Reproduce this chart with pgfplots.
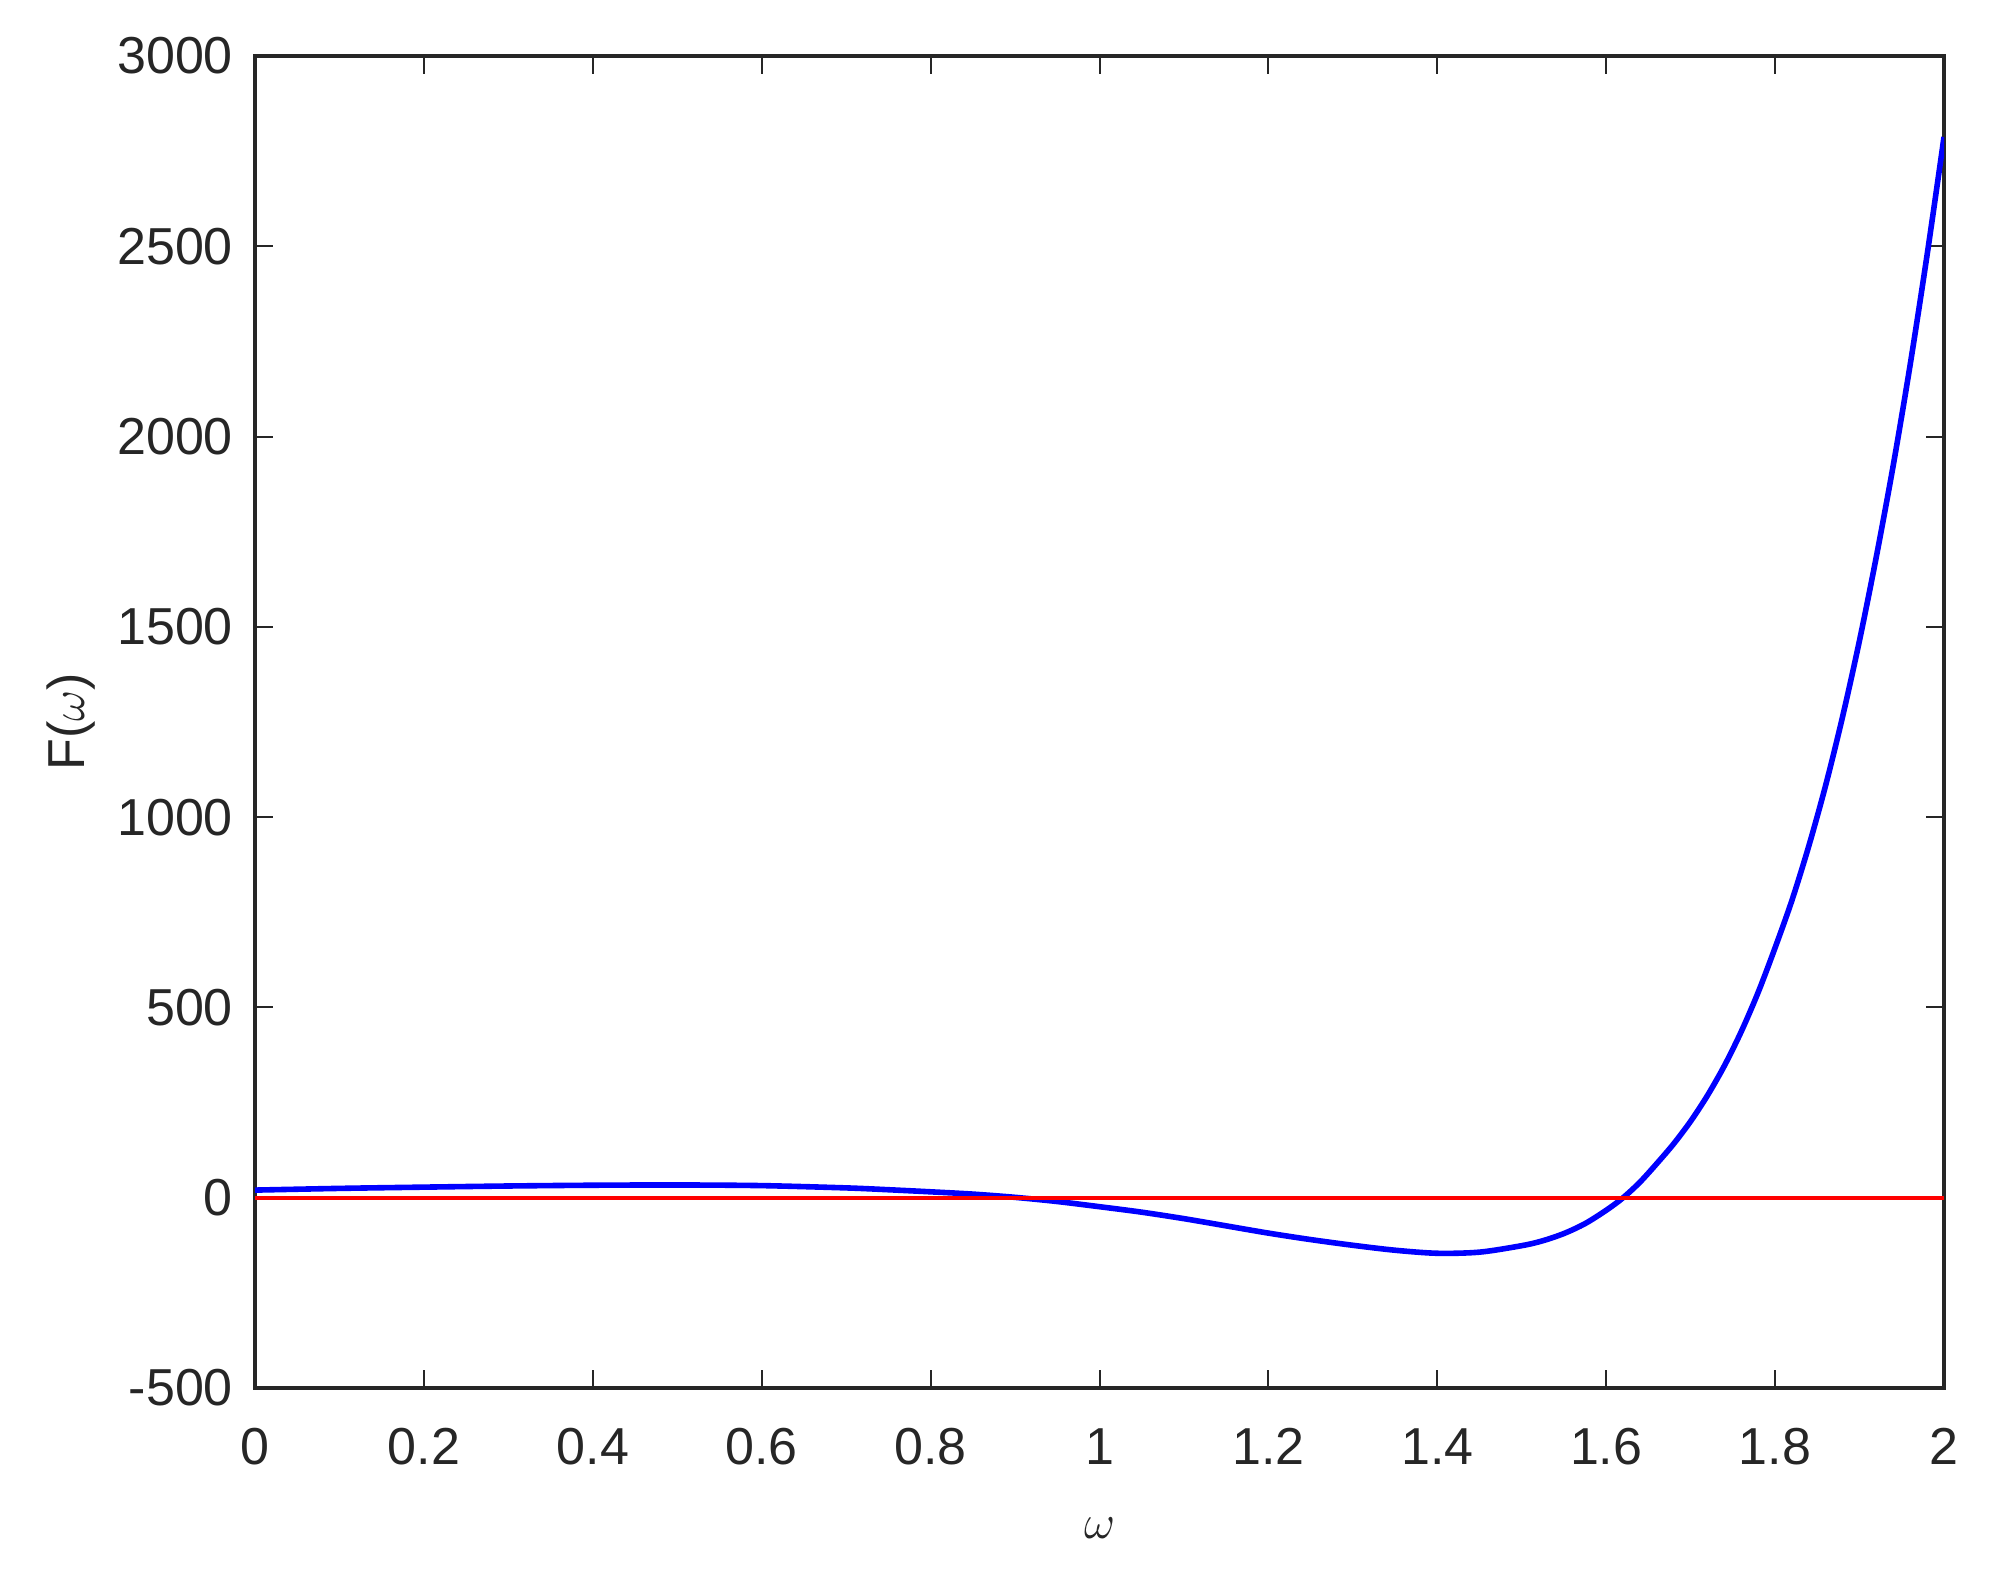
\documentclass[border=0pt]{standalone}
\usepackage{pgfplots}
\pgfplotsset{compat=1.18}
\usepackage{fontspec}
\setmainfont{Liberation Sans}
\definecolor{axgray}{HTML}{262626}
\begin{document}
\begin{tikzpicture}
\begin{axis}[
  name=ax,
  scale only axis,
  width=422.25pt, height=333pt,
  xmin=0, xmax=2, ymin=-500, ymax=3000,
  xtick={0,0.2,0.4,0.6,0.8,1,1.2,1.4,1.6,1.8,2},
  xticklabels={0,0.2,0.4,0.6,0.8,1,1.2,1.4,1.6,1.8,2},
  ytick={-500,0,500,1000,1500,2000,2500,3000},
  yticklabels={-500,0,500,1000,1500,2000,2500,3000},
  tick align=inside,
  major tick length=4.4pt,
  axis line style={axgray, line width=0.8pt},
  every tick/.style={axgray, line width=0.5pt},
  tick label style={font=\fontsize{13}{15}\selectfont, text=axgray},
  xticklabel style={yshift=-6.6pt},
  yticklabel style={xshift=-2pt},
  xlabel={$\omega$},
  ylabel={F($\omega$)},
  label style={font=\fontsize{13}{15}\selectfont, text=axgray},
  xlabel style={at={(axis description cs:0.5,-0.105)}, anchor=center},
  ylabel style={at={(axis description cs:-0.109,0.5)}, anchor=center, rotate=0},
  clip=true,
]
\addplot[blue, line width=1.4pt, smooth, tension=0.5] coordinates {
(0,20) (0.1,24.5) (0.2,27.8) (0.3,30.8) (0.4,32.8) (0.5,33.5) (0.6,31.8)
(0.7,25.8) (0.75,21) (0.8,15.5) (0.85,9.5) (0.9,1) (0.95,-10) (1.0,-23.6)
(1.05,-38) (1.1,-55) (1.15,-74) (1.2,-93) (1.25,-110) (1.3,-125) (1.35,-138)
(1.4,-146) (1.45,-143) (1.5,-126) (1.525,-113) (1.55,-94) (1.575,-68)
(1.6,-33) (1.62,0) (1.64,41) (1.66,90) (1.68,142) (1.70,201) (1.72,269)
(1.74,347) (1.76,437) (1.78,540) (1.80,657) (1.82,782) (1.84,925) (1.86,1085)
(1.88,1265) (1.90,1465) (1.92,1686) (1.94,1926) (1.96,2190) (1.98,2478) (2.0,2787)
};
\addplot[red, line width=1pt] coordinates {(0,0) (2,0)};
\end{axis}
\path ([xshift=-63.75pt,yshift=-48.5pt]ax.south west) rectangle ([xshift=13.25pt,yshift=14pt]ax.north east);
\end{tikzpicture}
\end{document}
